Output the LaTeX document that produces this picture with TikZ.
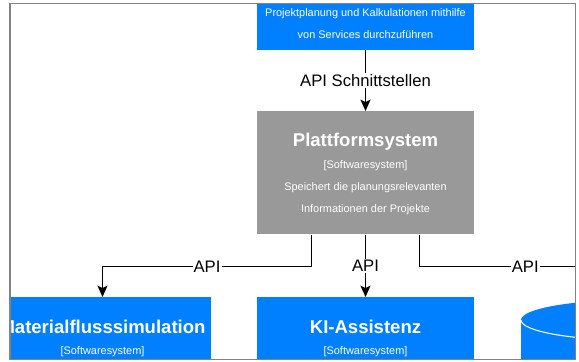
\documentclass[tikz,border=0pt]{standalone}
\usepackage{fontspec}
\setmainfont{Liberation Sans}
\usetikzlibrary{arrows.meta,calc}

\definecolor{systemblau}{RGB}{0,128,255}
\definecolor{systemgrau}{RGB}{153,153,153}
\definecolor{rahmengrau}{RGB}{130,130,130}

\tikzset{
	system/.style={fill=#1, draw=none, inner sep=0pt, minimum width=162.75pt, minimum height=92.25pt},
	titel/.style={text=white, inner sep=0pt, font=\fontsize{13.9}{16}\selectfont\bfseries},
	typ/.style={text=white, inner sep=0pt, font=\fontsize{8.2}{10}\selectfont},
	pfeil/.style={line width=1pt, -{Stealth[length=8.5pt,width=7.5pt,inset=1.8pt]}},
	schnitt/.style={fill=white, text=black, inner sep=0.8pt, font=\fontsize{12.5}{14}\selectfont}
}

\begin{document}
\begin{tikzpicture}[x=0.75pt,y=-0.75pt]

	% ---- parameters

	\def\mitte{365.5}
	\def\versatz{54}

	\useasboundingbox (0,0) rectangle (579,361);

	\begin{scope}
	\clip (10,3.5) rectangle (575.5,359.5);

	% ---- boxes

	\node[system=systemblau, anchor=south] (anwender) at (\mitte,50) {};
	\node[system=systemgrau, minimum height=92.25pt, anchor=north] (plattform) at (\mitte,111) {};
	\node[system=systemblau, anchor=north] (matfluss) at (102.5,297) {};
	\node[system=systemblau, anchor=north] (kiassist) at (\mitte,297) {};

	% ---- database

	\coordinate (datenbank) at (631,300);
	\fill[systemblau] (631,320) ellipse (110 and 20);
	\fill[systemblau] (521,320) rectangle (741,420);
	\draw[white, line width=0.8pt] (521,320) arc[start angle=180, end angle=0, x radius=110, y radius=20];

	% ---- texts

	\node[typ] (anwtext1) at (\mitte,14) {Projektplanung und Kalkulationen mithilfe};
	\node[typ] (anwtext2) at (\mitte,35) {von Services durchzuführen};

	\node[titel] (plattitel) at ($(plattform.north)+(0,30.7)$) {Plattformsystem};
	\node[typ] (plattyp) at ($(plattform.north)+(0,54.7)$) {[Softwaresystem]};
	\node[typ] (plattext1) at ($(plattform.north)+(0,76.7)$) {Speichert die planungsrelevanten};
	\node[typ] (plattext2) at ($(plattform.north)+(0,98.3)$) {Informationen der Projekte};

	\node[titel] (mattitel) at ($(matfluss.north)+(0,29.7)$) {Materialflusssimulation};
	\node[typ] (mattyp) at ($(matfluss.north)+(0,54.7)$) {[Softwaresystem]};

	\node[titel] (kititel) at ($(kiassist.north)+(0,29.7)$) {KI-Assistenz};
	\node[typ] (kityp) at ($(kiassist.north)+(0,54.7)$) {[Softwaresystem]};

	% ---- connectors

	\draw[pfeil] (anwender.south) -- node[schnitt] {API Schnittstellen} (plattform.north);

	\draw[pfeil] ($(plattform.south)+(-\versatz,0)$) -- ++(0,32)
		-| node[schnitt, pos=0.25] {API} (matfluss.north);
	\draw[pfeil] (plattform.south) -- node[schnitt] {API} (kiassist.north);
	\draw[pfeil] ($(plattform.south)+(\versatz,0)$) -- ++(0,32)
		-| node[schnitt, pos=0.25] {API} (datenbank);

	\end{scope}

	% ---- frame

	\draw[rahmengrau, line width=1.2pt] (10,3.5) rectangle (575.5,359.5);

\end{tikzpicture}
\end{document}
